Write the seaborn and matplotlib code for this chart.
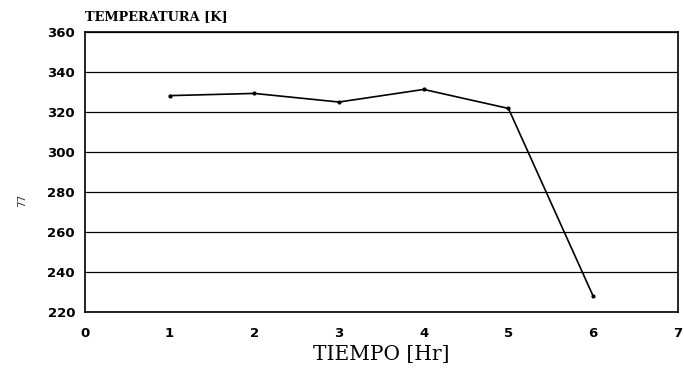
import matplotlib
matplotlib.use("Agg")
import matplotlib.pyplot as plt
import seaborn as sns
import pandas as pd

# Temperature readings over time
tiempo_hr = [1, 2, 3, 4, 5, 6]
temperatura_k = [328.2, 329.3, 325.0, 331.3, 321.8, 228.0]

x_ticks = [0, 1, 2, 3, 4, 5, 6, 7]
y_ticks = [220, 240, 260, 280, 300, 320, 340, 360]

df = pd.DataFrame({"tiempo": tiempo_hr, "temperatura": temperatura_k})

sns.set_theme(style="white")
plt.rcParams["font.family"] = ["DejaVu Sans"]

fig = plt.figure(figsize=(6.84, 3.68), dpi=100)
ax = fig.add_axes([0.124, 0.152, 0.867, 0.761])

sns.lineplot(data=df, x="tiempo", y="temperatura", ax=ax, color="black",
             linewidth=1.2, marker="o", markersize=3, markeredgewidth=0)

ax.set_xlim(0, 7)
ax.set_ylim(220, 360)
ax.set_xticks(x_ticks)
ax.set_yticks(y_ticks)
ax.set_xticklabels([str(v) for v in x_ticks], fontsize=9.5, fontweight="bold")
ax.set_yticklabels([str(v) for v in y_ticks], fontsize=9.5, fontweight="bold")

ax.yaxis.grid(True, color="black", linewidth=0.9)
ax.xaxis.grid(False)
for s in ax.spines.values():
    s.set_color("black")
    s.set_linewidth(1.2)

ax.tick_params(axis="x", direction="in", length=4, width=1, pad=11, colors="black")
ax.tick_params(axis="y", direction="out", length=3, width=1, pad=4, colors="black")

ax.set_xlabel("TIEMPO [Hr]", family=["DejaVu Serif"],
              fontsize=14.5, labelpad=3, color="black")
ax.set_ylabel("")
ax.text(0.0, 1.03, "TEMPERATURA [K]", transform=ax.transAxes,
        family=["DejaVu Serif"], fontsize=9.3, fontweight="bold",
        ha="left", va="bottom", color="black")

# page number printed along the margin
fig.text(0.032, 0.455, "77", rotation=90, fontsize=7.5, color="#333333",
         ha="center", va="center")

fig.savefig("out.png", dpi=100)
